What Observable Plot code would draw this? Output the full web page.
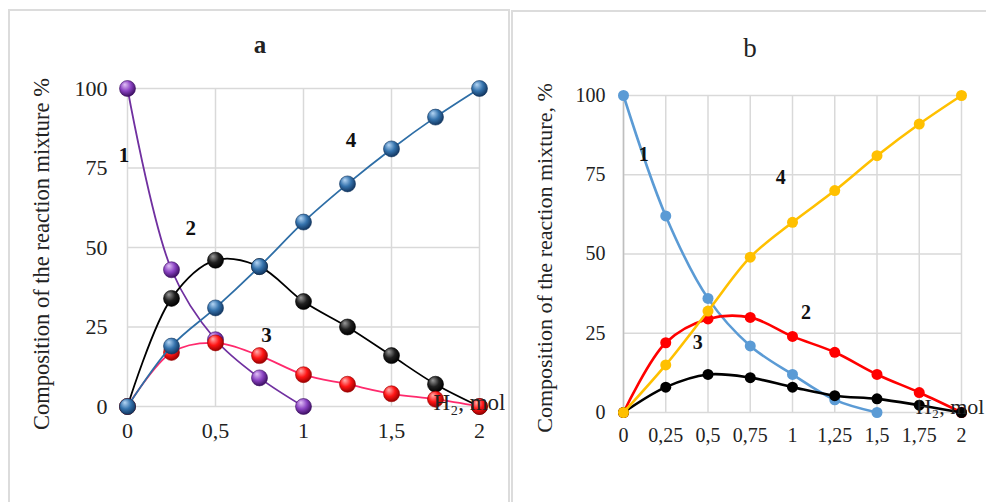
<!DOCTYPE html>
<html><head><meta charset="utf-8">
<script src="https://cdn.jsdelivr.net/npm/d3@7"></script>
<script src="https://cdn.jsdelivr.net/npm/@observablehq/plot@0.6"></script>
<style>
body{margin:0;background:#fff;}
#wrap{position:relative;width:986px;height:502px;overflow:hidden;background:#fff;font-family:"Liberation Serif","DejaVu Serif",serif;color:#222;}
.rot{position:absolute;white-space:nowrap;transform:translate(-50%,-50%) rotate(-90deg);}
.ttl{position:absolute;transform:translate(-50%,-50%);white-space:nowrap;}
.frame{position:absolute;border:2px solid #dcdcdc;pointer-events:none;}
</style></head><body><div id="wrap"></div>
<script>
// ---- data: panel a ----
const xValues = [0, 0.25, 0.5, 0.75, 1, 1.25, 1.5, 1.75, 2];
const a1 = [100, 43, 21, 9, 0];
const a2 = [0, 34, 46, 44, 33, 25, 16, 7, 0];
const a3 = [0, 17, 20, 16, 10, 7, 4, 2.3, 0];
const a4 = [0, 19, 31, 44, 58, 70, 81, 91, 100];
// ---- data: panel b ----
const b1 = [100, 62, 36, 21, 12, 4, 0];
const b2 = [0, 22, 29.5, 30, 24, 19, 12, 6.3, 0];
const b3 = [0, 8, 12, 11, 8, 5.3, 4.3, 2.3, 0];
const b4 = [0, 15, 32, 49, 60, 70, 81, 91, 100];
// ticks
const yTicks = [0, 25, 50, 75, 100];
const xTicksA = [0, 0.5, 1, 1.5, 2];
const xTicksB = [0, 0.25, 0.5, 0.75, 1, 1.25, 1.5, 1.75, 2];
// series number labels (data-space positions)
const labelsA = [{t:"1", x:-0.02, y:79}, {t:"2", x:0.36, y:56}, {t:"3", x:0.79, y:22.3}, {t:"4", x:1.27, y:83.6}];
const labelsB = [{t:"1", x:0.12, y:81.4}, {t:"4", x:0.93, y:74}, {t:"2", x:1.08, y:31.5}, {t:"3", x:0.44, y:22}];

const rows = vals => vals.map((v, i) => ({x: xValues[i], y: v}));
const fmt = d => String(d).replace(".", ",");
const FONT = "Liberation Serif";

const spheres = [
  {id:"gPurple", c:["#e2c2f7","#8a43c2","#3d0f62"]},
  {id:"gBlack",  c:["#9a9a9a","#202020","#000000"]},
  {id:"gRed",    c:["#ffb0b0","#ff1515","#9a0000"]},
  {id:"gBlue",   c:["#b5d6f5","#3573ad","#123660"]}
];
function addDefs(svg){
  const ns = "http://www.w3.org/2000/svg";
  const defs = document.createElementNS(ns, "defs");
  for (const g of spheres){
    const rg = document.createElementNS(ns, "radialGradient");
    rg.setAttribute("id", g.id);
    rg.setAttribute("cx", "0.42"); rg.setAttribute("cy", "0.38"); rg.setAttribute("r", "0.62");
    rg.setAttribute("fx", "0.33"); rg.setAttribute("fy", "0.25");
    [[0, g.c[0]], [0.55, g.c[1]], [1, g.c[2]]].forEach(([o, c]) => {
      const s = document.createElementNS(ns, "stop");
      s.setAttribute("offset", o); s.setAttribute("stop-color", c);
      rg.appendChild(s);
    });
    defs.appendChild(rg);
  }
  svg.insertBefore(defs, svg.firstChild);
}

const wrap = document.getElementById("wrap");

// ---------- panel a ----------
const seriesA = [
  {d: rows(a1), line: "#7030a0", fill: "url(#gPurple)", edge: "#3d0f62"},
  {d: rows(a2), line: "#000000", fill: "url(#gBlack)",  edge: "#000"},
  {d: rows(a3), line: "#ff2a6d", fill: "url(#gRed)",    edge: "#9a0000"},
  {d: rows(a4), line: "#2e6ea6", fill: "url(#gBlue)",   edge: "#123660"}
];
const plotA = Plot.plot({
  width: 505, height: 502,
  marginLeft: 127, marginRight: 26, marginTop: 88, marginBottom: 96,
  x: {domain: [0, 2]}, y: {domain: [0, 100]},
  style: {fontFamily: FONT, fontSize: "22px", color: "#222", background: "transparent"},
  marks: [
    Plot.gridX(xTicksA, {stroke: "#d9d9d9", strokeOpacity: 1, strokeWidth: 1.5}),
    Plot.gridY(yTicks, {stroke: "#d9d9d9", strokeOpacity: 1, strokeWidth: 1.5}),
    Plot.axisY(yTicks, {tickSize: 0, tickPadding: 20, label: null, fontSize: 22, fontFamily: FONT}),
    Plot.axisX(xTicksA, {tickSize: 0, tickPadding: 16, tickFormat: fmt, label: null, fontSize: 22, fontFamily: FONT}),
    ...seriesA.flatMap(s => [
      Plot.line(s.d, {x: "x", y: "y", stroke: s.line, strokeWidth: 1.8, curve: "catmull-rom"}),
      Plot.dot(s.d, {x: "x", y: "y", r: 8, fill: s.fill, stroke: s.edge, strokeWidth: 0.6})
    ]),
    Plot.text(labelsA, {x: "x", y: "y", text: "t", fontWeight: "bold", fontSize: 21, fontFamily: FONT, fill: "#111"}),
    Plot.text(["H₂, mol"], {frameAnchor: "bottom-right", textAnchor: "end", dx: 26, dy: 3, fontSize: 23, fontFamily: FONT, fill: "#222"})
  ]
});
addDefs(plotA);
plotA.style.position = "absolute"; plotA.style.left = "0px"; plotA.style.top = "0px";
wrap.appendChild(plotA);

// ---------- panel b ----------
const seriesB = [
  {d: rows(b1), c: "#5b9bd5"},
  {d: rows(b2), c: "#ff0000"},
  {d: rows(b3), c: "#000000"},
  {d: rows(b4), c: "#ffc000"}
];
const plotB = Plot.plot({
  width: 481, height: 502,
  marginLeft: 118, marginRight: 25, marginTop: 95, marginBottom: 90,
  x: {domain: [0, 2]}, y: {domain: [0, 100]},
  style: {fontFamily: FONT, fontSize: "20px", color: "#222", background: "transparent"},
  marks: [
    Plot.gridX(xTicksB, {stroke: "#d9d9d9", strokeOpacity: 1, strokeWidth: 1.5}),
    Plot.gridY(yTicks, {stroke: "#d9d9d9", strokeOpacity: 1, strokeWidth: 1.5}),
    Plot.ruleX([0], {stroke: "#bfbfbf", strokeWidth: 1.5}),
    Plot.axisY(yTicks, {tickSize: 0, tickPadding: 18, label: null, fontSize: 20, fontFamily: FONT}),
    Plot.axisX(xTicksB, {tickSize: 0, tickPadding: 15, tickFormat: fmt, label: null, fontSize: 20, fontFamily: FONT}),
    ...seriesB.flatMap(s => [
      Plot.line(s.d, {x: "x", y: "y", stroke: s.c, strokeWidth: 2.6, curve: "catmull-rom"}),
      Plot.dot(s.d, {x: "x", y: "y", r: 5.5, fill: s.c})
    ]),
    Plot.text(labelsB, {x: "x", y: "y", text: "t", fontWeight: "bold", fontSize: 20, fontFamily: FONT, fill: "#111"}),
    Plot.text(["H₂, mol"], {frameAnchor: "bottom-right", textAnchor: "end", dx: 23, dy: 1, fontSize: 22, fontFamily: FONT, fill: "#222"})
  ]
});
plotB.style.position = "absolute"; plotB.style.left = "505px"; plotB.style.top = "0px";
wrap.appendChild(plotB);

// ---------- titles & frames ----------
function addEl(cls, text, css){
  const el = document.createElement("div");
  el.className = cls; el.textContent = text;
  Object.assign(el.style, css);
  wrap.appendChild(el);
  return el;
}
addEl("ttl", "a", {left: "260px", top: "45px", fontSize: "25px", fontWeight: "bold"});
addEl("ttl", "b", {left: "750px", top: "48px", fontSize: "27px"});
addEl("rot", "Composition of the reaction mixture %", {left: "42px", top: "254px", fontSize: "22.5px"});
addEl("rot", "Composition of the reaction mixture, %", {left: "545px", top: "258px", fontSize: "22px"});
addEl("frame", "", {left: "8px", top: "9px", width: "498px", height: "600px"});
addEl("frame", "", {left: "511px", top: "10px", width: "600px", height: "600px"});
</script></body></html>
